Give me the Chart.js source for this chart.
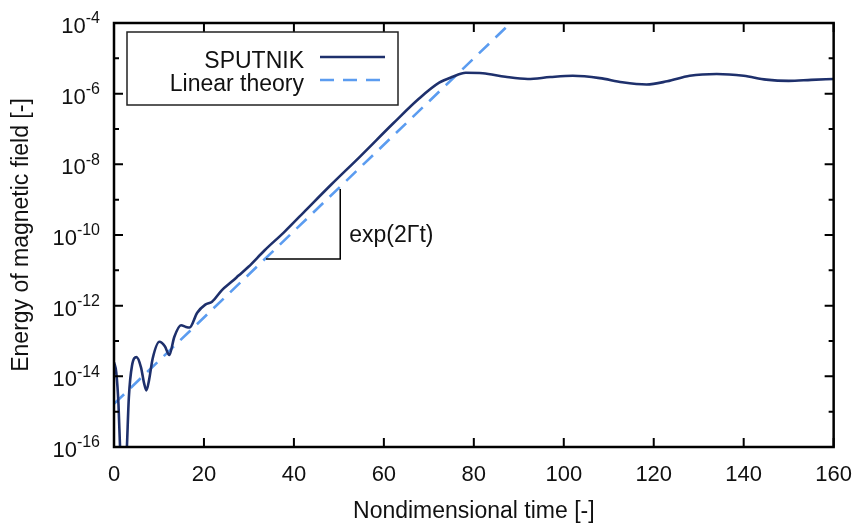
<!DOCTYPE html>
<html>
<head>
<meta charset="utf-8">
<script src="https://cdn.jsdelivr.net/npm/chart.js@4.4.1/dist/chart.umd.min.js"></script>
<style>
html, body { margin: 0; padding: 0; background: #fff; }
</style>
</head>
<body>
<canvas id="chart-area" width="867" height="523"></canvas>
<script>
// values
var timeSputnik = [0, 0.5, 1.0, 1.4, 2.1, 2.8, 3.3, 4.0, 5.0, 6.0, 6.7, 7.2, 7.8, 8.6,
  10.1, 11.3, 12.3, 13.4, 14.9, 16.0, 16.8, 18.5, 20.3, 21.8, 24.0, 26.2, 27.7,
  29.9, 33.5, 37.9, 43.0, 48.2, 54.7, 62.1, 67.9, 72.3, 75.3, 78.2, 82.0,
  87.0, 92.0, 97.0, 102.0, 108.0, 113.0, 118.4, 123.0, 128.0, 134.0, 140.0, 145.0,
  150.0, 155.0, 160.0];
var energySputnik = [2.5e-14, 1.3e-14, 1.6e-15, 6.3e-17, 3.2e-18, 6.3e-17, 2.5e-15, 2.0e-14,
  3.5e-14, 1.8e-14, 6.3e-15, 4.0e-15, 7.9e-15, 3.2e-14, 9.5e-14, 7.1e-14, 4.0e-14, 1.3e-13,
  2.8e-13, 2.5e-13, 2.4e-13, 6.3e-13, 1.07e-12, 1.3e-12, 2.75e-12, 4.8e-12, 7.1e-12,
  1.26e-11, 3.7e-11, 1.23e-10, 5.6e-10, 2.6e-9, 1.66e-8, 1.45e-7, 7.4e-7, 2.04e-6,
  3.0e-6, 3.9e-6, 3.8e-6, 3.0e-6, 2.6e-6, 2.95e-6, 3.2e-6, 2.75e-6, 2.1e-6,
  1.82e-6, 2.24e-6, 3.2e-6, 3.6e-6, 3.2e-6, 2.5e-6, 2.3e-6, 2.45e-6, 2.6e-6];

var timeLinear = [0, 88];
var energyLinear = [1.66e-15, 9.5e-5];

var xTicks = [0, 20, 40, 60, 80, 100, 120, 140, 160];
var yMajorExp = [-16, -14, -12, -10, -8, -6, -4];
var yMinorExp = [-15, -13, -11, -9, -7, -5];

// slope triangle, in data units
var triTime = [33.8, 50.3];
var triEnergy = [2.1e-11, 2.0e-9];
var triLabel = 'exp(2\u0393t)';

var FONT = '"Liberation Sans", Arial, Helvetica, sans-serif';

function pairs(xs, ys) {
  var out = [];
  for (var i = 0; i < xs.length; i++) out.push({x: xs[i], y: ys[i]});
  return out;
}

var gnuplotLook = {
  id: 'gnuplotLook',
  afterDraw: function(chart) {
    var ctx = chart.ctx;
    var a = chart.chartArea;
    var xs = chart.scales.x, ys = chart.scales.y;
    var i, p;
    ctx.save();

    // frame
    ctx.strokeStyle = '#000';
    ctx.lineWidth = 2.5;
    ctx.strokeRect(a.left, a.top, a.right - a.left, a.bottom - a.top);

    // inward ticks
    ctx.lineWidth = 2;
    ctx.beginPath();
    for (i = 0; i < xTicks.length; i++) {
      p = xs.getPixelForValue(xTicks[i]);
      ctx.moveTo(p, a.bottom); ctx.lineTo(p, a.bottom - 9);
      ctx.moveTo(p, a.top); ctx.lineTo(p, a.top + 9);
    }
    for (i = 0; i < yMajorExp.length; i++) {
      p = ys.getPixelForValue(Math.pow(10, yMajorExp[i]));
      ctx.moveTo(a.left, p); ctx.lineTo(a.left + 9, p);
      ctx.moveTo(a.right, p); ctx.lineTo(a.right - 9, p);
    }
    for (i = 0; i < yMinorExp.length; i++) {
      p = ys.getPixelForValue(Math.pow(10, yMinorExp[i]));
      ctx.moveTo(a.left, p); ctx.lineTo(a.left + 5, p);
      ctx.moveTo(a.right, p); ctx.lineTo(a.right - 5, p);
    }
    ctx.stroke();

    // y labels 10^n
    ctx.fillStyle = '#111';
    ctx.textBaseline = 'middle';
    for (i = 0; i < yMajorExp.length; i++) {
      p = ys.getPixelForValue(Math.pow(10, yMajorExp[i]));
      var ex = String(yMajorExp[i]);
      ctx.font = '16px ' + FONT;
      var ew = ctx.measureText(ex).width;
      ctx.textAlign = 'left';
      ctx.fillText(ex, 100 - ew, p - 4);
      ctx.font = '22px ' + FONT;
      ctx.textAlign = 'right';
      ctx.fillText('10', 100 - ew, p + 4);
    }

    // legend
    ctx.lineWidth = 1.5;
    ctx.strokeStyle = '#222';
    ctx.strokeRect(127, 32, 271, 73);
    ctx.font = '23px ' + FONT;
    ctx.textAlign = 'right';
    ctx.textBaseline = 'alphabetic';
    var rows = [60, 83];
    chart.data.datasets.forEach(function(ds, k) {
      ctx.fillStyle = '#111';
      ctx.fillText(ds.label, 304, rows[k] + 8);
      ctx.strokeStyle = ds.borderColor;
      ctx.lineWidth = ds.borderWidth;
      ctx.setLineDash(ds.borderDash || []);
      ctx.beginPath();
      ctx.moveTo(320, rows[k] - 3);
      ctx.lineTo(385, rows[k] - 3);
      ctx.stroke();
      ctx.setLineDash([]);
    });

    // slope triangle
    var x0 = xs.getPixelForValue(triTime[0]), x1 = xs.getPixelForValue(triTime[1]);
    var y0 = ys.getPixelForValue(triEnergy[0]), y1 = ys.getPixelForValue(triEnergy[1]);
    ctx.strokeStyle = '#000';
    ctx.lineWidth = 1.5;
    ctx.beginPath();
    ctx.moveTo(x0, y0); ctx.lineTo(x1, y0); ctx.lineTo(x1, y1);
    ctx.stroke();
    ctx.fillStyle = '#111';
    ctx.font = '23px ' + FONT;
    ctx.textAlign = 'left';
    ctx.textBaseline = 'middle';
    ctx.fillText(triLabel, x1 + 9, (y0 + y1) / 2 + 12);

    ctx.restore();
  }
};

var config = {
  type: 'line',
  data: {
    datasets: [{
      label: 'SPUTNIK',
      data: pairs(timeSputnik, energySputnik),
      borderColor: '#1e306c',
      borderWidth: 2.6,
      pointRadius: 0,
      cubicInterpolationMode: 'monotone',
      fill: false
    }, {
      label: 'Linear theory',
      data: pairs(timeLinear, energyLinear),
      borderColor: '#5b9cf0',
      borderWidth: 2.6,
      borderDash: [14, 9],
      pointRadius: 0,
      fill: false
    }]
  },
  options: {
    responsive: false,
    animation: false,
    layout: { padding: { left: 0, top: 23, right: 24, bottom: 0 } },
    plugins: { legend: { display: false }, tooltip: { enabled: false } },
    scales: {
      x: {
        type: 'linear',
        min: 0, max: 160,
        grid: { display: false, drawTicks: false },
        border: { display: false },
        afterBuildTicks: function(s) { s.ticks = xTicks.map(function(v) { return {value: v}; }); },
        afterFit: function(s) { s.height = 76; },
        ticks: { color: '#111', padding: 15, maxRotation: 0, font: { family: FONT, size: 22 } },
        title: { display: true, text: 'Nondimensional time [-]', color: '#111',
                 padding: { top: 0, bottom: 0 }, font: { family: FONT, size: 23, lineHeight: 1 } }
      },
      y: {
        type: 'logarithmic',
        min: 1e-16, max: 1e-4,
        grid: { display: false, drawTicks: false },
        border: { display: false },
        ticks: { display: false },
        afterFit: function(s) { s.width = 114; },
        title: { display: true, text: 'Energy of magnetic field [-]', color: '#111',
                 padding: { top: 10, bottom: 0 }, font: { family: FONT, size: 23, lineHeight: 1 } }
      }
    }
  },
  plugins: [gnuplotLook]
};

var ctx = document.getElementById('chart-area').getContext('2d');
window.myChart = new Chart(ctx, config);
</script>
</body>
</html>
